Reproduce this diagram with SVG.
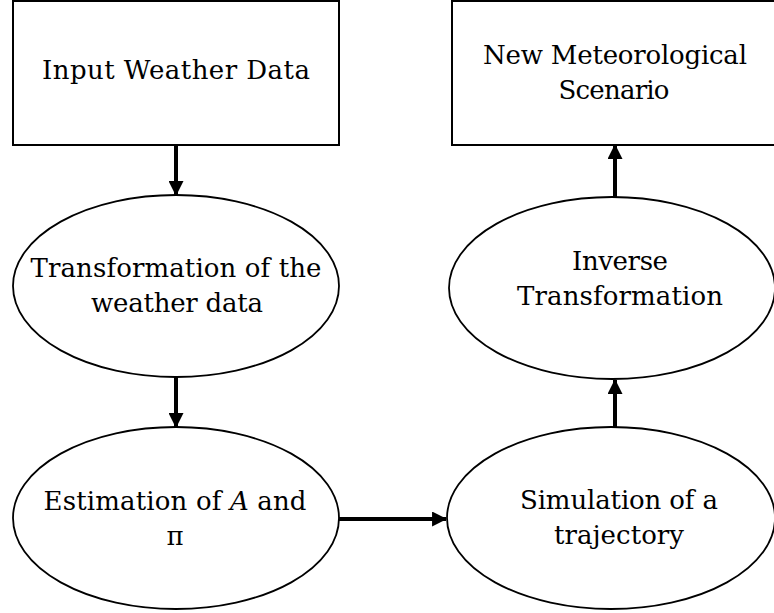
<svg xmlns="http://www.w3.org/2000/svg" width="774" height="613" viewBox="0 0 774 613">
  <style>
    .box { fill: #ffffff; stroke: #000000; stroke-width: 2; }
    .oval { fill: #ffffff; stroke: #000000; stroke-width: 1.8; }
    .label { font-family: "DejaVu Serif", "Liberation Serif", serif; font-size: 26px; fill: #000000; text-anchor: middle; }
    .edge { stroke: #000000; stroke-width: 4; fill: none; marker-end: url(#head); }
  </style>
  <defs>
    <marker id="head" viewBox="0 0 14 14" refX="13" refY="7" markerWidth="15" markerHeight="15" markerUnits="userSpaceOnUse" orient="auto">
      <path d="M0,0 L14,7 L0,14 Z" fill="#000000"/>
    </marker>
  </defs>
  <rect width="774" height="613" fill="#ffffff"/>

  <g id="input-data">
    <rect class="box" x="13" y="1" width="326" height="144"/>
    <text class="label" x="176" y="79" textLength="268" lengthAdjust="spacing">Input Weather Data</text>
  </g>

  <g id="new-scenario">
    <rect class="box" x="452" y="1" width="340" height="144"/>
    <text class="label" x="615" y="64" textLength="264" lengthAdjust="spacing">New Meteorological</text>
    <text class="label" x="614" y="99" textLength="111" lengthAdjust="spacing">Scenario</text>
  </g>

  <g id="transformation">
    <ellipse class="oval" cx="176" cy="286" rx="163" ry="91"/>
    <text class="label" x="176" y="277" textLength="291" lengthAdjust="spacing">Transformation of the</text>
    <text class="label" x="177" y="312" textLength="172" lengthAdjust="spacing">weather data</text>
  </g>

  <g id="inverse-transformation">
    <ellipse class="oval" cx="612" cy="288" rx="163" ry="91"/>
    <text class="label" x="620" y="270" textLength="96" lengthAdjust="spacing">Inverse</text>
    <text class="label" x="620" y="305" textLength="206" lengthAdjust="spacing">Transformation</text>
  </g>

  <g id="estimation">
    <ellipse class="oval" cx="176" cy="518" rx="163" ry="91"/>
    <text class="label" x="175" y="510" textLength="263" lengthAdjust="spacing">Estimation of <tspan font-style="italic">A</tspan> and</text>
    <text class="label" x="175" y="545">π</text>
  </g>

  <g id="simulation">
    <ellipse class="oval" cx="611" cy="518" rx="164" ry="91"/>
    <text class="label" x="619" y="509" textLength="198" lengthAdjust="spacing">Simulation of a</text>
    <text class="label" x="619" y="544" textLength="130" lengthAdjust="spacing">trajectory</text>
  </g>

  <g id="connectors">
    <line class="edge" x1="176" y1="145" x2="176" y2="195"/>
    <line class="edge" x1="176" y1="377" x2="176" y2="427"/>
    <line class="edge" x1="339" y1="519" x2="446" y2="519"/>
    <line class="edge" x1="615" y1="427" x2="615" y2="380"/>
    <line class="edge" x1="615" y1="197" x2="615" y2="145"/>
  </g>
</svg>
